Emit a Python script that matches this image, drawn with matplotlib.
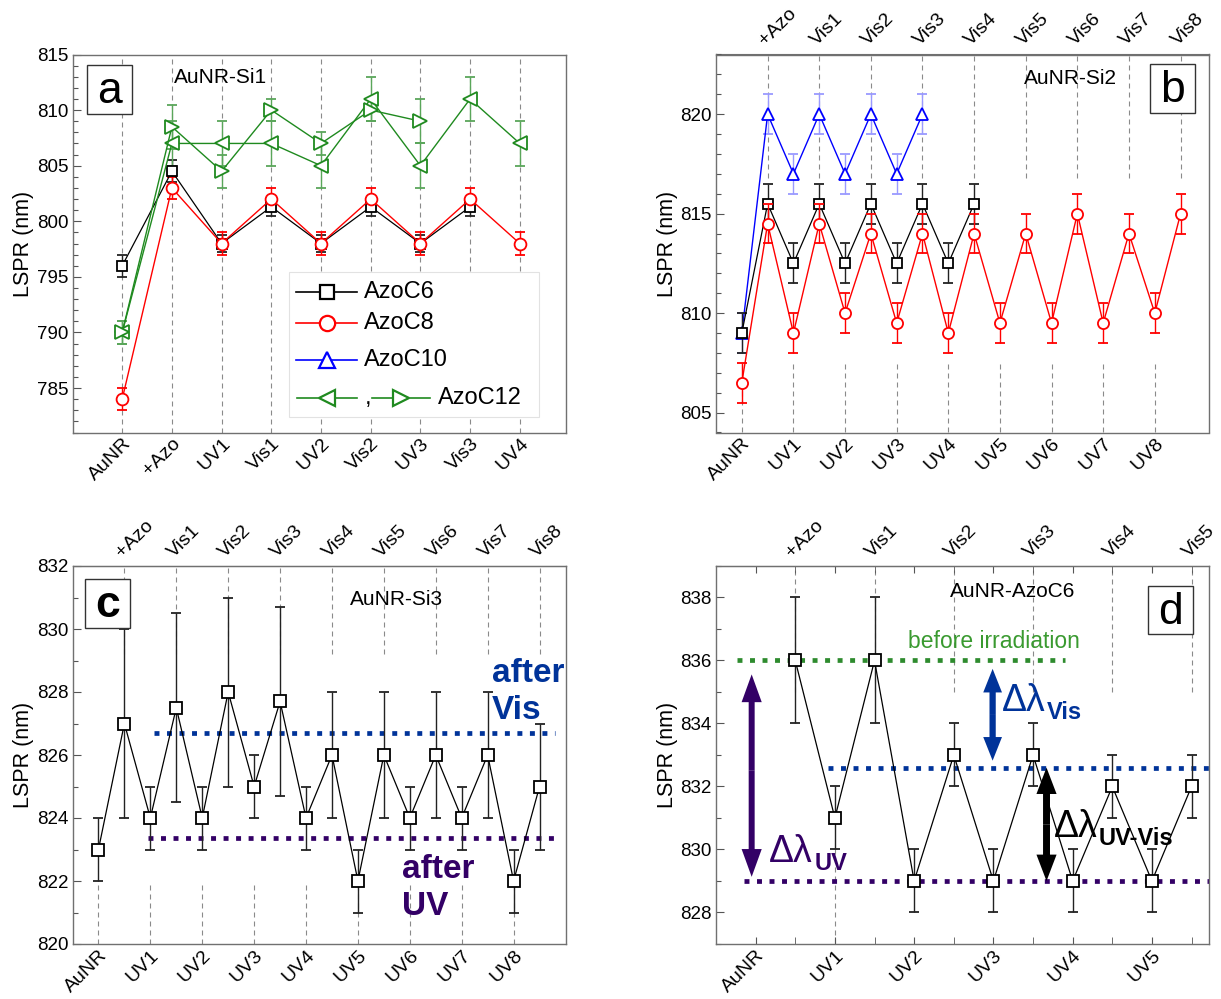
import numpy as np
import matplotlib
matplotlib.use("Agg")
import matplotlib.pyplot as plt
from matplotlib.lines import Line2D
from matplotlib.patches import Rectangle, FancyArrowPatch, ArrowStyle
from matplotlib.ticker import MultipleLocator

plt.rcParams["font.family"] = ["Liberation Sans", "DejaVu Sans"]

# ---------------- data ----------------
# (a) AuNR-Si1, one slot per step
steps_a = ["AuNR", "+Azo", "UV1", "Vis1", "UV2", "Vis2", "UV3", "Vis3", "UV4"]
a_c6 = [796, 804.5, 798, 801.3, 798, 801.3, 798, 801.3]
a_c6_err = [1, 1, 0.8, 0.8, 0.8, 0.8, 0.8, 0.8]
a_c8 = [784, 803, 798, 802, 798, 802, 798, 802, 798]
a_c8_err = [1, 1, 1, 1, 1, 1, 1, 1, 1]
a_c12_l = [790, 807, 807, 807, 805, 811, 805, 811, 807]
a_c12_l_err = [1, 2, 2, 2, 2, 2, 2, 2, 2]
a_c12_r = [790, 808.5, 804.5, 810, 807, 810, 809]
a_c12_r_err = [1, 2, 1.5, 1, 1, 1, 2]

# (b), (c): UV steps on the bottom axis, Vis steps on the top axis
uv_steps = ["AuNR", "UV1", "UV2", "UV3", "UV4", "UV5", "UV6", "UV7", "UV8"]
vis_steps = ["+Azo", "Vis1", "Vis2", "Vis3", "Vis4", "Vis5", "Vis6", "Vis7", "Vis8"]

b_c6 = [809, 815.5, 812.5, 815.5, 812.5, 815.5, 812.5, 815.5, 812.5, 815.5]
b_c6_err = [1] * 10
b_c8 = [806.5, 814.5, 809, 814.5, 810, 814, 809.5, 814, 809, 814,
        809.5, 814, 809.5, 815, 809.5, 814, 810, 815]
b_c8_err = [1] * 18
b_c10 = [809, 820, 817, 820, 817, 820, 817, 820]
b_c10_err = [1] * 8

c_vals = [823, 827, 824, 827.5, 824, 828, 825, 827.7, 824, 826,
          822, 826, 824, 826, 824, 826, 822, 825]
c_err = [1, 3, 1, 3, 1, 3, 1, 3, 1, 2, 1, 2, 1, 2, 1, 2, 1, 2]
c_after_vis = 826.7
c_after_uv = 823.35
c_vis_span = (1.08, 8.8)
c_uv_span = (0.96, 8.9)

# (d) AuNR-AzoC6
uv_steps_d = ["AuNR", "UV1", "UV2", "UV3", "UV4", "UV5"]
vis_steps_d = ["+Azo", "Vis1", "Vis2", "Vis3", "Vis4", "Vis5"]
d_vals = [836, 831, 836, 829, 833, 829, 833, 829, 832, 829, 832]
d_err = [2, 1, 2, 1, 1, 1, 1, 1, 1, 1, 1]
d_before = 836
d_after_vis = 832.6
d_after_uv = 829
d_before_span = (-0.24, 3.9)
d_vis_span = (0.91, 5.72)
d_uv_span = (-0.15, 5.72)
d_arrow_x = {"uv": -0.05, "vis": 2.99, "uvvis": 3.67}

# ---------------- style ----------------
GREEN = "#1f8a1f"
GREEN_TXT = "#3a9a30"
BLUE_D = "#003399"
PURPLE = "#330066"
GUIDE = dict(color="#8a8a8a", lw=0.8, linestyle=(0, (4.5, 3.6)), zorder=1)
DOTS = dict(lw=3.4, linestyle=(0, (1.05, 1.6)), zorder=2)
TICK_FS = 13.5
CAT_FS = 14

W, H = 1221, 999
fig = plt.figure(figsize=(W / 100, H / 100), dpi=100)


def add_axes(left, top, w=493, h=378):
    return fig.add_axes([left / W, 1 - (top + h) / H, w / W, h / H])


ax_a = add_axes(72.5, 54.5)
ax_b = add_axes(716, 54.5)
ax_c = add_axes(72.5, 566)
ax_d = add_axes(716, 566)


def interleave(bottom, top):
    seq = []
    for u, v in zip(bottom, top):
        seq += [u, v]
    return seq


def style_axes(ax, ylim, major, xlim):
    ax.set_xlim(*xlim)
    ax.set_ylim(*ylim)
    ax.yaxis.set_major_locator(MultipleLocator(major))
    ax.yaxis.set_minor_locator(MultipleLocator(1))
    for s in ax.spines.values():
        s.set_color("#707070")
        s.set_linewidth(1.0)
    ax.tick_params(axis="y", which="both", direction="in", left=True,
                   right=False, labelsize=TICK_FS, color="#555555", width=0.8)
    ax.tick_params(axis="y", which="major", length=5.5, pad=3)
    ax.tick_params(axis="y", which="minor", length=3.5)
    ax.set_ylabel("LSPR (nm)", fontsize=15.5, labelpad=2)


def bottom_labels(ax, pos, labels, length=0):
    ax.set_xticks(pos)
    ax.set_xticklabels(labels, fontsize=CAT_FS, rotation=45, ha="right",
                       va="top", rotation_mode="anchor")
    ax.tick_params(axis="x", which="major", length=length, direction="in",
                   pad=2, color="#555555")


def top_labels(ax, pos, labels):
    sec = ax.secondary_xaxis("top")
    sec.set_xticks(pos)
    sec.set_xticklabels(labels, fontsize=CAT_FS, rotation=45, ha="left",
                        va="bottom", rotation_mode="anchor")
    sec.tick_params(axis="x", length=0, pad=4)
    for s in sec.spines.values():
        s.set_color("#707070")
    return sec


def series(ax, x, y, err, color, marker, ms, ecolor=None, lw=1.0, z=3):
    ax.errorbar(x, y, yerr=err, color=color, lw=lw, marker=marker, ms=ms,
                mfc="white", mec=color, mew=1.3, ecolor=ecolor or color,
                elinewidth=1.0, capsize=3.5, capthick=1.0, zorder=z)


def panel_tag(ax, letter, box, weight="normal"):
    x0, y0, x1, y1 = box
    ax.add_patch(Rectangle((x0, y0), x1 - x0, y1 - y0, transform=ax.transAxes,
                           facecolor="white", edgecolor="#333333", lw=1.0,
                           zorder=6))
    ax.text((x0 + x1) / 2, (y0 + y1) / 2 - 0.005, letter, transform=ax.transAxes,
            ha="center", va="center", fontsize=32, fontweight=weight, zorder=7)


# ---------------- (a) ----------------
ax = ax_a
xa = np.arange(len(steps_a))
ax.vlines(xa, 781, 815, **GUIDE)
series(ax, xa[:len(a_c6)], a_c6, a_c6_err, "black", "s", 7.5, ecolor="#222222", lw=0.9)
series(ax, xa[:len(a_c8)], a_c8, a_c8_err, "red", "o", 8.5)
series(ax, xa[:len(a_c12_l)], a_c12_l, a_c12_l_err, GREEN, "<", 9.5, ecolor="#5aa65a")
series(ax, xa[:len(a_c12_r)], a_c12_r, a_c12_r_err, GREEN, ">", 9.5, ecolor="#5aa65a")
style_axes(ax, (781, 815), 5, (-1, 8.92))
bottom_labels(ax, xa, steps_a)
ax.text(0.206, 0.94, "AuNR-Si1", transform=ax.transAxes, fontsize=15,
        ha="left", va="center")
panel_tag(ax, "a", (0.029, 0.843, 0.121, 0.971))

# key for the chain lengths
ax.add_patch(Rectangle((0.44, 0.042), 0.507, 0.383, transform=ax.transAxes,
                       facecolor="white", edgecolor="#e2e2e2", lw=0.8, zorder=8))


def key_glyph(x0, x1, y, color, marker, ms):
    ax.add_line(Line2D([x0, x1], [y, y], transform=ax.transAxes, color=color,
                       lw=1.2, zorder=9))
    ax.add_line(Line2D([(x0 + x1) / 2], [y], transform=ax.transAxes,
                       marker=marker, ms=ms, mfc="white", mec=color, mew=1.6,
                       ls="none", zorder=10))


key_rows = [("AzoC6", "black", "s", 10.5, 0.372),
            ("AzoC8", "red", "o", 11, 0.289),
            ("AzoC10", "blue", "^", 12, 0.192)]
for name, col, mk, ms, y in key_rows:
    key_glyph(0.454, 0.577, y, col, mk, ms)
    ax.text(0.592, y, name, transform=ax.transAxes, fontsize=17,
            ha="left", va="center", zorder=10)
key_glyph(0.456, 0.578, 0.091, GREEN, "<", 12)
ax.text(0.592, 0.091, ",", transform=ax.transAxes, fontsize=17,
        ha="left", va="center", zorder=10)
key_glyph(0.607, 0.726, 0.091, GREEN, ">", 12)
ax.text(0.742, 0.091, "AzoC12", transform=ax.transAxes, fontsize=17,
        ha="left", va="center", zorder=10)
ax.set_xlim(-1, 8.92)
ax.set_ylim(781, 815)

# ---------------- (b) ----------------
ax = ax_b
seq_b = interleave(uv_steps, vis_steps)
pos_b = {s: i * 0.5 for i, s in enumerate(seq_b)}
xb_uv = [pos_b[s] for s in uv_steps]
xb_vis = [pos_b[s] for s in vis_steps]
ax.vlines(xb_vis, 816.8, 823, **GUIDE)
ax.vlines(xb_uv, 804, 807.6, **GUIDE)
series(ax, [pos_b[s] for s in seq_b[:len(b_c10)]], b_c10, b_c10_err, "blue", "^", 9,
       ecolor="#9a9aff", z=3)
series(ax, [pos_b[s] for s in seq_b[:len(b_c6)]], b_c6, b_c6_err, "black", "s", 7.5,
       ecolor="#222222", lw=0.9, z=3.2)
series(ax, [pos_b[s] for s in seq_b[:len(b_c8)]], b_c8, b_c8_err, "red", "o", 8, z=3.4)
style_axes(ax, (804, 823), 5, (-0.5, 9.05))
bottom_labels(ax, xb_uv, uv_steps)
top_labels(ax, xb_vis, vis_steps)
ax.text(0.718, 0.936, "AuNR-Si2", transform=ax.transAxes, fontsize=15,
        ha="center", va="center")
panel_tag(ax, "b", (0.88, 0.846, 0.972, 0.974))

# ---------------- (c) ----------------
ax = ax_c
xc_uv = [pos_b[s] for s in uv_steps]
xc_vis = [pos_b[s] for s in vis_steps]
ax.vlines(xc_vis, 829.2, 832, **GUIDE)
ax.vlines(xc_uv, 820, 822.0, **GUIDE)
ax.hlines(c_after_vis, *c_vis_span, color=BLUE_D, **DOTS)
ax.hlines(c_after_uv, *c_uv_span, color=PURPLE, **DOTS)
series(ax, [pos_b[s] for s in seq_b[:len(c_vals)]], c_vals, c_err, "black", "s", 8,
       ecolor="#222222", lw=0.9)
style_axes(ax, (820, 832), 2, (-0.5, 9.0))
bottom_labels(ax, xc_uv, uv_steps)
top_labels(ax, xc_vis, vis_steps)
ax.text(0.658, 0.912, "AuNR-Si3", transform=ax.transAxes, fontsize=15,
        ha="center", va="center")
ax.text(7.58, 828.6, "after", color=BLUE_D, fontsize=24, fontweight="bold",
        ha="left", va="center")
ax.text(7.58, 827.4, "Vis", color=BLUE_D, fontsize=24, fontweight="bold",
        ha="left", va="center")
ax.text(5.84, 822.35, "after", color=PURPLE, fontsize=24, fontweight="bold",
        ha="left", va="center")
ax.text(5.84, 821.2, "UV", color=PURPLE, fontsize=24, fontweight="bold",
        ha="left", va="center")
panel_tag(ax, "c", (0.025, 0.837, 0.117, 0.965), weight="bold")

# ---------------- (d) ----------------
ax = ax_d
seq_d = interleave(uv_steps_d, vis_steps_d)
pos_d = {s: i * 0.5 for i, s in enumerate(seq_d)}
xd_uv = [pos_d[s] for s in uv_steps_d]
xd_vis = [pos_d[s] for s in vis_steps_d]
ax.vlines(xd_vis, 835.0, 839, **GUIDE)
ax.vlines([pos_d["UV1"]], 827, 830, **GUIDE)
ax.hlines(d_before, *d_before_span, color="#2e8b2e", **DOTS)
ax.hlines(d_after_vis, *d_vis_span, color=BLUE_D, **DOTS)
ax.hlines(d_after_uv, *d_uv_span, color=PURPLE, **DOTS)
series(ax, [pos_d[s] for s in seq_d[1:1 + len(d_vals)]], d_vals, d_err, "black", "s", 8.5,
       ecolor="#222222", lw=0.9)
style_axes(ax, (827, 839), 2, (-0.5, 5.72))
bottom_labels(ax, xd_uv, uv_steps_d, length=5)
top_labels(ax, xd_vis, vis_steps_d)
ax.set_xticks([pos_d[s] for s in seq_d], minor=True)
ax.tick_params(axis="x", which="minor", top=True, bottom=True, direction="in",
               length=5, color="#555555")
ax.tick_params(axis="x", which="major", top=True)
ax.text(0.601, 0.932, "AuNR-AzoC6", transform=ax.transAxes, fontsize=15,
        ha="center", va="center")
ax.text(3.01, 836.6, "before irradiation", color=GREEN_TXT, fontsize=16.5,
        ha="center", va="center")
panel_tag(ax, "d", (0.876, 0.82, 0.968, 0.946))


def double_arrow(ax, x, ya, yb, color, tail, hw, hl, shr_a=0, shr_b=0):
    ym = (ya + yb) / 2
    style = ArrowStyle.Simple(head_length=hl, head_width=hw, tail_width=tail)
    for end, shr in ((ya, shr_a), (yb, shr_b)):
        ax.add_patch(FancyArrowPatch((x, ym), (x, end), arrowstyle=style,
                                     mutation_scale=1, color=color, lw=0,
                                     shrinkA=0, shrinkB=shr, zorder=6))


def delta_label(ax, x, y, sub, color, size=27, subsize=17):
    t = ax.text(x, y, "Δλ", color=color, fontsize=size, ha="left",
                va="baseline", zorder=7)
    ax.annotate(sub, xy=(1, 0), xycoords=t, xytext=(1, 0),
                textcoords="offset points", color=color, fontsize=subsize,
                fontweight="bold", ha="left", va="baseline", zorder=7)


double_arrow(ax, d_arrow_x["uv"], d_before, d_after_uv, PURPLE, 4.3, 14.5, 20,
             shr_a=10, shr_b=3)
double_arrow(ax, d_arrow_x["vis"], d_before, d_after_vis, BLUE_D, 4.5, 13.5, 17,
             shr_a=6, shr_b=5)
double_arrow(ax, d_arrow_x["uvvis"], d_after_vis, d_after_uv, "black", 5, 14.5, 19)
delta_label(ax, 0.17, 829.6, "UV", PURPLE)
delta_label(ax, 3.11, 834.4, "Vis", BLUE_D)
delta_label(ax, 3.76, 830.4, "UV-Vis", "black")
ax.set_xlim(-0.5, 5.72)
ax.set_ylim(827, 839)

fig.savefig("out.png", dpi=100)
